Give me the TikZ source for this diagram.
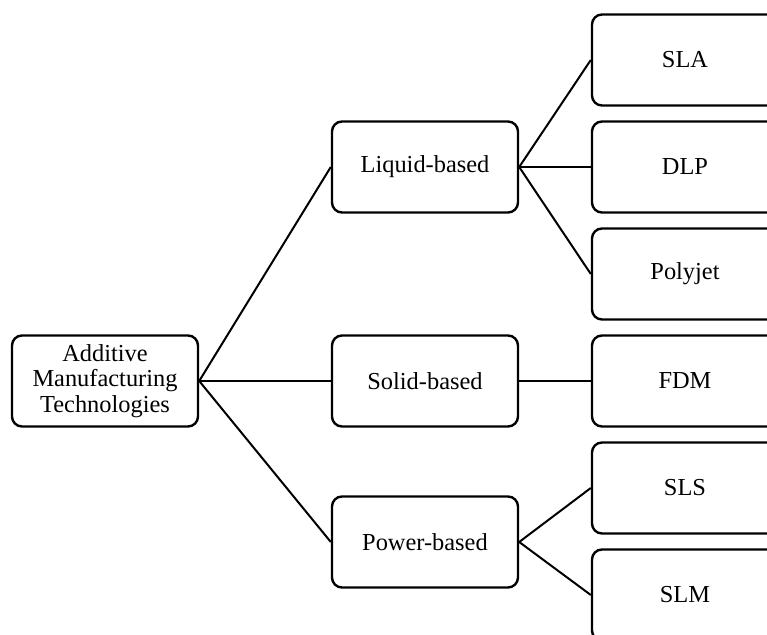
\documentclass[tikz,border=0pt]{standalone}
\usepackage{fontspec}
\setmainfont{Liberation Serif}
\begin{document}
\begin{tikzpicture}[x=0.5pt,y=-0.5pt,
  box/.style={draw, line width=1.2pt, rounded corners=5pt, minimum width=93pt,
    minimum height=45.5pt, align=center, inner sep=2pt,
    font=\fontsize{12.2}{12.6}\selectfont},
  link/.style={line width=1pt}]
\useasboundingbox (0,0) rectangle (767,635);
\clip (0,0) rectangle (767,635);
% root and first level
\node[box] (am) at (105,381) {Additive\\Manufacturing\\Technologies};
\node[box] (liq) at (425,167) {Liquid-based};
\node[box] (sol) at (425,381) {Solid-based};
\node[box] (pow) at (425,542) {Power-based};
% processes
\node[box] (sla) at (685,60) {SLA};
\node[box] (dlp) at (685,167) {DLP};
\node[box] (poly) at (685,274) {Polyjet};
\node[box] (fdm) at (685,381) {FDM};
\node[box] (sls) at (685,488) {SLS};
\node[box] (slm) at (685,595) {SLM};
% connectors
\draw[link] (am.east) -- (liq.west);
\draw[link] (am.east) -- (sol.west);
\draw[link] (am.east) -- (pow.west);
\draw[link] (liq.east) -- (sla.west);
\draw[link] (liq.east) -- (dlp.west);
\draw[link] (liq.east) -- (poly.west);
\draw[link] (sol.east) -- (fdm.west);
\draw[link] (pow.east) -- (sls.west);
\draw[link] (pow.east) -- (slm.west);
\end{tikzpicture}
\end{document}
